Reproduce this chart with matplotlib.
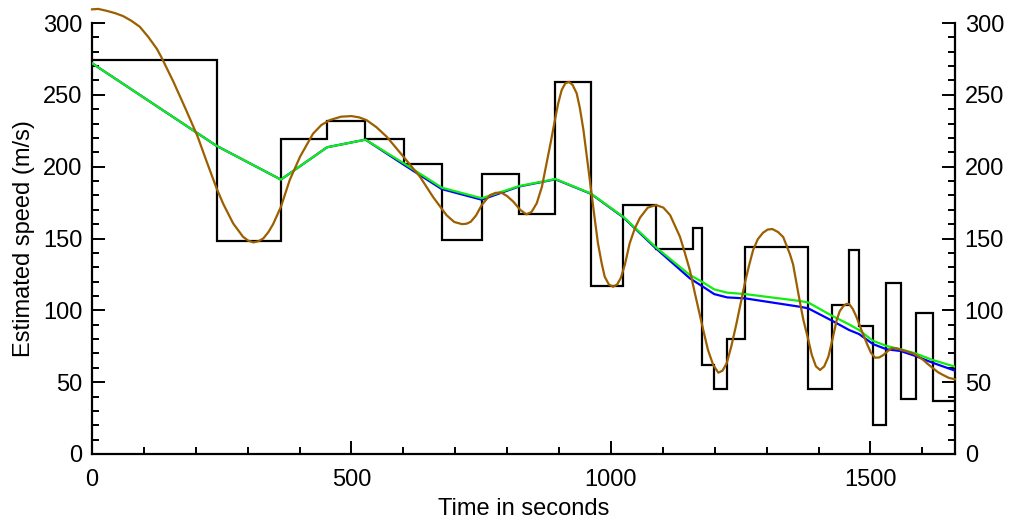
import matplotlib
matplotlib.use("Agg")
import matplotlib.pyplot as plt
from matplotlib.ticker import MultipleLocator

plt.rcParams['font.family'] = ['Liberation Sans', 'DejaVu Sans']

# Step function (piecewise constant speed estimates)
step_edges = [0, 240, 364, 453, 527, 601, 674, 751, 823, 893, 961, 1024, 1087,
              1159, 1175, 1199, 1224, 1259, 1380, 1426, 1458, 1478, 1505, 1531,
              1558, 1587, 1620, 1663]
step_values = [274, 148, 219, 232, 219, 202, 149, 195, 167, 259, 117, 173, 143,
               157, 62, 45, 80, 144, 45, 104, 142, 89, 20, 119, 38, 98, 37]

# Smoothed estimates (green and blue)
smooth_t = [0, 240, 364, 453, 527, 601, 674, 751, 823, 893, 961, 1024, 1087,
            1152, 1175, 1199, 1224, 1259, 1364, 1380, 1426, 1459, 1478, 1505,
            1531, 1558, 1587, 1620, 1663]
green_v = [272, 214.5, 191, 213.5, 218.8, 202.3, 185.4, 178, 186.5, 191.4, 181.4,
           165, 143.8, 124.6, 120, 114.6, 112.3, 111.3, 106.5, 105.5, 96.2, 90.2,
           86.3, 78.8, 75.2, 72.9, 70, 65.4, 60.8]
blue_v = [272, 214.5, 191, 213.5, 218.8, 201.3, 184.4, 177, 186.2, 191.2, 181.2,
          164.7, 143, 122.3, 117, 111.3, 109, 108.3, 102.5, 101.4, 92.8, 86.3,
          83.5, 76.5, 72.9, 71.7, 68.2, 63.5, 58]

# Interpolating curve (brown)
brown_t = [0, 12, 28, 45, 60, 76, 92, 108, 125, 134, 157, 180, 203, 221, 240,
           253, 272, 291, 301, 311, 320, 330, 340, 349, 364, 381, 401, 426, 442,
           458, 480, 500, 515, 529, 548, 568, 600, 632, 657, 683, 698, 713, 722,
           730, 740, 751, 767, 778, 789, 800, 812, 825, 837, 847, 857, 867, 876,
           884, 892, 898, 905, 912, 919, 926, 934, 940, 947, 955, 963, 969, 975,
           982, 988, 996, 1004, 1012, 1019, 1027, 1036, 1046, 1056, 1071, 1087,
           1101, 1114, 1133, 1142, 1152, 1162, 1172, 1180, 1187, 1197, 1207,
           1215, 1223, 1232, 1242, 1250, 1258, 1266, 1274, 1283, 1293, 1302,
           1311, 1322, 1332, 1345, 1351, 1358, 1364, 1371, 1380, 1387, 1395,
           1403, 1411, 1419, 1427, 1435, 1441, 1448, 1454, 1459, 1466, 1473,
           1483, 1493, 1501, 1509, 1517, 1525, 1533, 1541, 1550, 1560, 1571,
           1582, 1592, 1602, 1611, 1621, 1630, 1640, 1651, 1663]
brown_v = [309.5, 309.8, 308.5, 306.8, 304.8, 301.5, 297.4, 290.5, 282, 276, 259,
           240.5, 221.5, 203.5, 185, 174, 160.5, 151.2, 148.5, 147.3, 148, 150,
           154.5, 160, 172, 190.7, 207, 223, 229, 232.4, 234.8, 235.2, 234.3,
           232.4, 227.5, 220.8, 207, 193, 179, 166.3, 161.5, 160, 160.3, 161.7,
           166, 173.3, 180.2, 181.8, 181.9, 179.5, 175.6, 170, 166.8, 168.5,
           174.5, 186, 202.3, 217, 232.4, 243.5, 253.3, 258, 259, 257, 251, 241,
           225.5, 203, 180.2, 163, 146.6, 133, 123.4, 118, 116.4, 118, 122.5,
           132, 146.5, 157, 164.5, 171.5, 173.3, 171.5, 166.3, 151.2, 140.5, 128,
           111.5, 95.5, 83, 72.4, 62, 56.6, 58, 63.1, 75, 91, 105, 118.8, 131,
           142, 149.5, 154, 156.2, 156.6, 154.5, 151, 139, 132, 118, 106, 93, 80,
           69, 61, 58.5, 61, 67.7, 80, 93.2, 99.5, 103, 104.5, 104.4, 101, 95.5,
           86, 77, 70.5, 67, 67.2, 68.9, 71.5, 73.6, 73.5, 72.4, 71.3, 70, 68,
           65.4, 62.5, 59.6, 57, 55, 53, 52]

fig = plt.figure(figsize=(10.10, 5.23), dpi=100)
ax = fig.add_axes([92/1010, 69/523, (955-92)/1010, (454-23)/523])

ax.stairs(step_values, step_edges, baseline=None, color='black', lw=1.6, zorder=2)
ax.plot(smooth_t, blue_v, color='#0000ff', lw=1.6, zorder=3)
ax.plot(smooth_t, green_v, color='#11ee11', lw=1.6, zorder=4)
ax.plot(brown_t, brown_v, color='#9c5f00', lw=1.6, zorder=5, clip_on=False,
        solid_joinstyle='round')

ax.set_xlim(0, 1663)
ax.set_ylim(0, 300)

ax.spines['top'].set_visible(False)
for s in ['left', 'right', 'bottom']:
    ax.spines[s].set_linewidth(1.6)

ax.xaxis.set_major_locator(MultipleLocator(500))
ax.xaxis.set_minor_locator(MultipleLocator(100))
ax.yaxis.set_major_locator(MultipleLocator(50))
ax.yaxis.set_minor_locator(MultipleLocator(10))

ax.tick_params(axis='both', which='major', direction='in', length=9.5, width=1.4,
               labelsize=17, pad=7)
ax.tick_params(axis='both', which='minor', direction='in', length=5, width=1.4)
ax.tick_params(axis='x', which='major', pad=11)
ax.tick_params(axis='y', which='both', left=True, right=True, labelleft=True,
               labelright=True)
ax.tick_params(axis='x', which='both', top=False)

ax.set_xlabel('Time in seconds', fontsize=17, labelpad=5)
ax.set_ylabel('Estimated speed (m/s)', fontsize=17, labelpad=6)

fig.savefig('out.png', dpi=100)
